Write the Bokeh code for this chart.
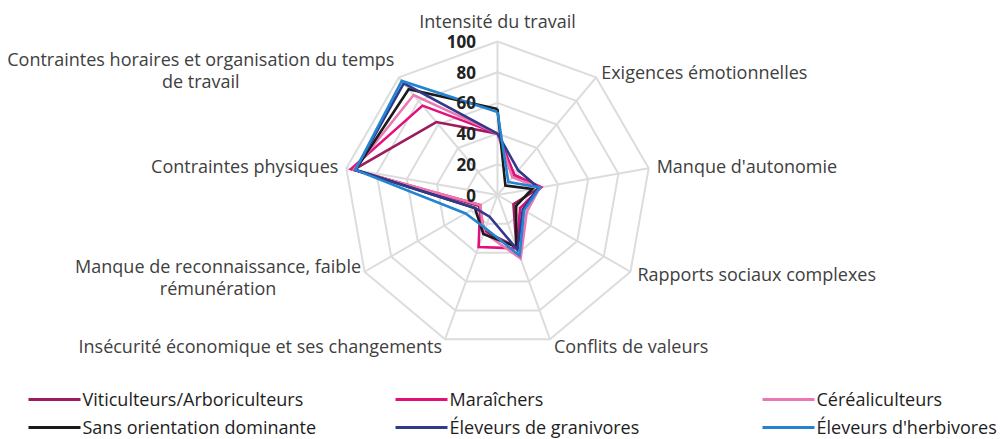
import math
from bokeh.plotting import figure
from bokeh.models import Range1d
from bokeh.core.properties import value
from bokeh.embed import file_html
from bokeh.resources import INLINE

# ---------------- data ----------------
categories = [
    "Intensité du travail",
    "Exigences émotionnelles",
    "Manque d'autonomie",
    "Rapports sociaux complexes",
    "Conflits de valeurs",
    "Insécurité économique et ses changements",
    "Manque de reconnaissance, faible\nrémunération",
    "Contraintes physiques",
    "Contraintes horaires et organisation du temps\nde travail",
]
tick_values = [0, 20, 40, 60, 80, 100]
tick_labels = ["0", "20", "40", "60", "80", "100"]

series_names = [
    "Viticulteurs/Arboriculteurs",
    "Maraîchers",
    "Céréaliculteurs",
    "Sans orientation dominante",
    "Éleveurs de granivores",
    "Éleveurs d'herbivores",
]
viticulteurs = [40, 17, 28, 12, 36, 25, 14, 95, 62]
maraichers = [40, 17, 29, 17, 37, 36, 13, 97, 76]
cerealiculteurs = [40, 15, 28, 22, 44, 26, 13, 95, 85]
sans_orientation = [56, 8, 23, 14, 36, 27, 17, 94, 90]
granivores = [40, 21, 27, 19, 38, 15, 17, 94, 95]
herbivores = [54, 11, 28, 20, 42, 23, 24, 94, 97]
series_values = [viticulteurs, maraichers, cerealiculteurs,
                 sans_orientation, granivores, herbivores]
series_colors = ["#9c1c5f", "#e2107c", "#ec77b2", "#1b1b1b", "#2f3a8a", "#2484d2"]

# ---------------- layout ----------------
W, H = 1003, 439
CX, CY = 497.0, 194.5        # centre of the radar in figure pixels
S = 1.535                    # pixels per value unit
RMAX = 100
FONT = value("Open Sans")

def px(x, y):
    """figure pixel -> data units"""
    return (x - CX) / S, (CY - y) / S

p = figure(width=W, height=H, output_backend="svg", toolbar_location=None,
           x_range=Range1d(-CX / S, (W - CX) / S),
           y_range=Range1d(-(H - CY) / S, CY / S),
           x_axis_type=None, y_axis_type=None, min_border=0)
p.grid.visible = False
p.outline_line_color = None
p.background_fill_color = "white"
p.border_fill_color = "white"

n = len(categories)
angles = [2 * math.pi * i / n for i in range(n)]
dirs = [(math.sin(a), math.cos(a)) for a in angles]

# grid rings
grid_col = "#dcdcdc"
for lv in tick_values[1:]:
    xs = [lv * d[0] for d in dirs] + [lv * dirs[0][0]]
    ys = [lv * d[1] for d in dirs] + [lv * dirs[0][1]]
    p.line(xs, ys, line_color=grid_col, line_width=2)
p.segment(x0=[0] * n, y0=[0] * n,
          x1=[RMAX * d[0] for d in dirs], y1=[RMAX * d[1] for d in dirs],
          line_color=grid_col, line_width=2)

# series
for name, vals, col in zip(series_names, series_values, series_colors):
    xs = [v * d[0] for v, d in zip(vals, dirs)]
    ys = [v * d[1] for v, d in zip(vals, dirs)]
    xs.append(xs[0]); ys.append(ys[0])
    p.line(xs, ys, line_color=col, line_width=2.6, line_join="miter")

# tick labels
p.text(x=[-21.5 / S] * len(tick_values), y=tick_values, text=tick_labels,
       text_align="right", text_baseline="middle",
       text_font=FONT, text_font_style="bold",
       text_font_size="17px", text_color="#222222")

# category labels: (dx, dy in pixels from the outer vertex, alignment)
label_layout = [
    (0, -21, "center"),
    (5, -5, "left"),
    (8, -2, "left"),
    (7, 2, "left"),
    (4, 7, "left"),
    (-3, 7, "right"),
    (-146.5, -6, "center"),
    (-8, -2, "right"),
    (-198, -18, "center"),
]
lab_col = "#404040"
for cat, d, (dx, dy, al) in zip(categories, dirs, label_layout):
    vx = CX + RMAX * d[0] * S
    vy = CY - RMAX * d[1] * S
    for k, line in enumerate(cat.split("\n")):
        x, y = px(vx + dx, vy + dy + 22 * k)
        p.text(x=[x], y=[y], text=[line], text_align=al, text_baseline="middle",
               text_font=FONT, text_font_size="18px", text_color=lab_col)

# legend
col_x = [28, 395, 762]
row_y = [399, 427]
for i, (name, col) in enumerate(zip(series_names, series_colors)):
    r, c = divmod(i, 3)
    x0, y0 = px(col_x[c], row_y[r])
    x1, _ = px(col_x[c] + 52, row_y[r])
    xt, yt = px(col_x[c] + 54, row_y[r] - 1)
    p.segment(x0=[x0], y0=[y0], x1=[x1], y1=[y0], line_color=col, line_width=3)
    p.text(x=[xt], y=[yt], text=[name], text_align="left", text_baseline="middle",
           text_font=FONT, text_font_size="18px", text_color="#1e1e1e")

open("out.html", "w").write(file_html(p, INLINE))
